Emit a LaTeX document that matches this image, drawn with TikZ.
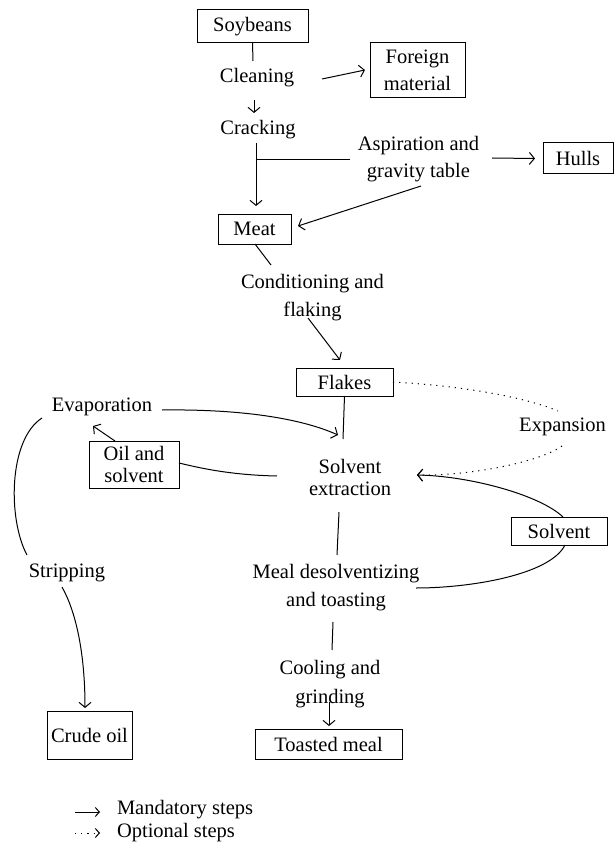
\documentclass[tikz,border=0pt]{standalone}
\usepackage{fontspec}
\setmainfont{Liberation Serif}
\usetikzlibrary{arrows.meta,calc}
\begin{document}
\begin{tikzpicture}[x=1pt,y=-1pt,
  every node/.style={font=\fontsize{20.5}{27}\selectfont, inner sep=0pt, outer sep=0pt},
  txt/.style={align=center},
  box/.style={draw, line width=1pt, align=center},
  conn/.style={line width=1pt},
  arr/.style={conn, -{Straight Barb[length=5pt,width=12pt]}},
  opt/.style={conn, dash pattern=on 1.2pt off 5pt},
  optarr/.style={opt, -{Straight Barb[length=5pt,width=12pt]}}]
\useasboundingbox (0,0) rectangle (614,845);

% boxes
\node[box, minimum width=111pt, minimum height=33pt] (soy) at (252.5,26.5) {Soybeans};
\node[box, minimum width=95pt, minimum height=55pt] (foreign) at (417.5,70.5) {Foreign\\material};
\node[box, minimum width=70pt, minimum height=31pt] (hulls) at (578,158.5) {Hulls};
\node[box, minimum width=73pt, minimum height=30pt] (meat) at (254.5,229) {Meat};
\node[box, minimum width=97pt, minimum height=28pt] (flakes) at (344.5,382) {Flakes};
\node[box, minimum width=90pt, minimum height=47pt, font=\fontsize{20.5}{22}\selectfont] (oil) at (134,464.5) {Oil and\\solvent};
\node[box, minimum width=96pt, minimum height=28pt] (solventbox) at (559,531) {Solvent};
\node[box, minimum width=85pt, minimum height=48pt] (crude) at (89.5,735) {Crude oil};
\node[box, minimum width=147pt, minimum height=30pt] (toasted) at (328.5,744) {Toasted meal};

% process texts
\node[txt] (cleaning) at (257,78) {Cleaning};
\node[txt] (cracking) at (258,130) {Cracking};
\node[txt] (aspiration) at (418.5,158.75) {Aspiration and\\gravity table};
\node[txt, font=\fontsize{20.5}{28}\selectfont] (conditioning) at (312.5,298) {Conditioning and\\flaking};
\node[txt] (expansion) at (562.5,427) {Expansion};
\node[txt, font=\fontsize{20.5}{22}\selectfont] (solvext) at (350,477) {Solvent\\extraction};
\node[txt] (evaporation) at (102,407) {Evaporation};
\node[txt] (stripping) at (67,573) {Stripping};
\node[txt, font=\fontsize{20.5}{28}\selectfont] (mealdes) at (336,588) {Meal desolventizing\\and toasting};
\node[txt, font=\fontsize{20.5}{29}\selectfont] (cooling) at (330,684) {Cooling and\\grinding};

% connectors
\draw[conn] (soy.south) -- ($(cleaning)+(-4,-17)$);
\draw[arr] ($(cleaning)+(65,1)$) -- ($(foreign.west)+(-5,-0.5)$);
\draw[arr] ($(cleaning)+(-3,22)$) -- ($(cracking)+(-4,-17)$);
\draw[arr] ($(cracking)+(-2,13)$) -- ($(meat.north)+(1.5,-8)$);
\coordinate (branch) at ($(cracking)+(-2,30)$);
\draw[conn] (branch) -- ($(aspiration)+(-68.5,1.25)$);
\draw[arr] ($(aspiration)+(73.5,-0.75)$) -- ($(hulls.west)+(-8,0)$);
\draw[arr] ($(aspiration)+(2.5,27.25)$) -- ($(meat.east)+(7,-3)$);
\draw[conn] ($(meat.south)+(0.5,0)$) -- ($(conditioning)+(-41.5,-33)$);
\draw[arr] ($(conditioning)+(-4.5,20)$) -- ($(flakes.north)+(-4.5,-8)$);
\draw[conn] (flakes.south) -- ($(solvext)+(-7,-38)$);
\draw[opt] (flakes.east) .. controls (450,385) and (520,395) .. ($(expansion)+(-4.5,-16)$);
\draw[optarr] ($(expansion)+(-0.5,19)$) .. controls (540,462) and (470,476) .. ($(solvext)+(67,-2)$);
\draw[arr] ($(solventbox.north)+(4,0)$) .. controls (540,495) and (470,476) .. ($(solvext)+(67,-2)$);
\draw[conn] ($(mealdes)+(80,0)$) .. controls (470,588) and (550,575) .. ($(solventbox.south)+(6,0)$);
\draw[conn] ($(solvext)+(-11,35)$) -- ($(mealdes)+(1,-33)$);
\draw[conn] ($(mealdes)+(-3,34)$) -- ($(cooling)+(2,-34)$);
\draw[arr] ($(cooling)+(-1,18)$) -- ($(toasted.north)+(0.5,-3)$);
\draw[arr] ($(evaporation)+(60,3)$) .. controls (240,409) and (300,418) .. ($(solvext)+(-12,-42)$);
\draw[arr] ($(oil.north)+(-19,0)$) -- ($(evaporation)+(-9,19)$);
\draw[conn] ($(solvext)+(-73,-1)$) .. controls (230,475) and (200,468) .. ($(oil.east)+(0,-1.5)$);
\draw[conn] ($(evaporation)+(-60,11)$) .. controls (8,440) and (8,520) .. ($(stripping)+(-40,-18)$);
\draw[arr] ($(stripping)+(-5,14)$) .. controls (75,610) and (85,650) .. ($(crude.north)+(-4.5,-3)$);

% legend
\node[anchor=west] (leg1) at (117,810) {Mandatory steps};
\node[anchor=west] (leg2) at (117,833) {Optional steps};
\coordinate (l1s) at (75,812);
\coordinate (l2s) at (75,833);
\draw[conn, -{Straight Barb[length=4pt,width=9pt]}] (l1s) -- ($(leg1.west)+(-17,2)$);
\draw[opt, -{Straight Barb[length=4pt,width=9pt]}] (l2s) -- ($(leg2.west)+(-17,0)$);
\end{tikzpicture}
\end{document}
